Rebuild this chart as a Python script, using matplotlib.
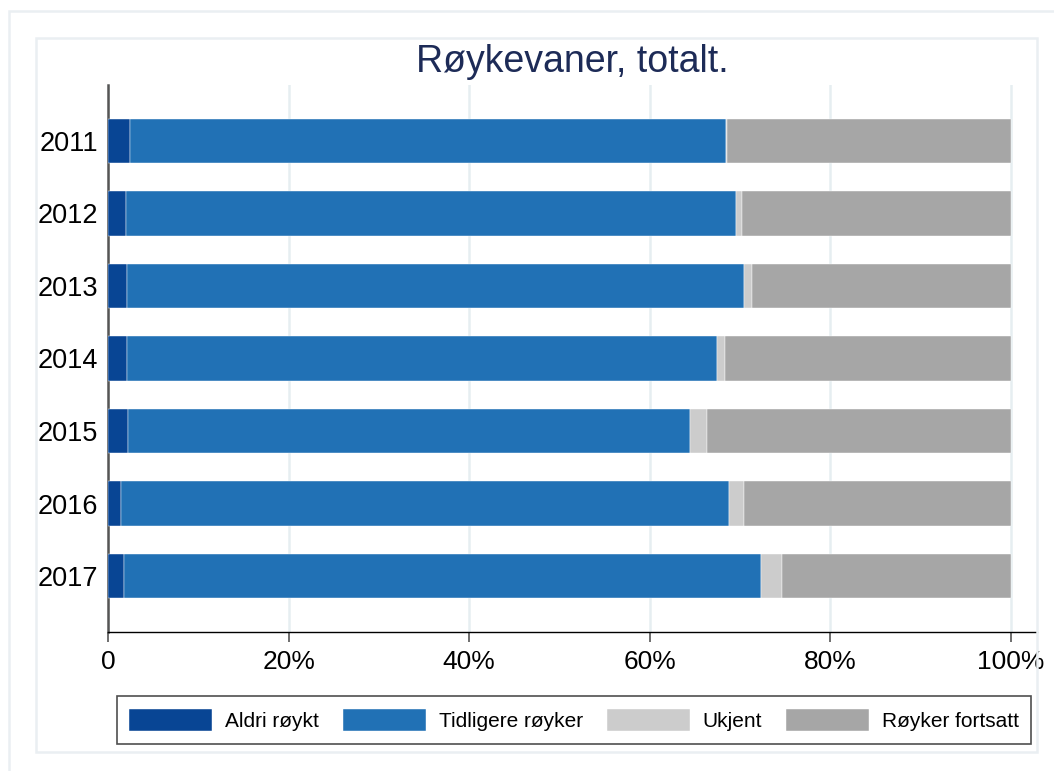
import matplotlib.pyplot as plt
import numpy as np
from matplotlib.patches import Rectangle

plt.rcParams['font.family'] = ['Liberation Sans', 'DejaVu Sans']

# Data (percent of total)
years = ['2011', '2012', '2013', '2014', '2015', '2016', '2017']
aldri = [2.4, 2.0, 2.1, 2.1, 2.2, 1.4, 1.8]
tidligere = [66.0, 67.6, 68.4, 65.4, 62.3, 67.4, 70.5]
ukjent = [0.2, 0.6, 0.8, 0.8, 1.9, 1.7, 2.3]
fortsatt = [31.4, 29.8, 28.7, 31.7, 33.6, 29.5, 25.4]

series_names = ['Aldri røykt', 'Tidligere røyker', 'Ukjent', 'Røyker fortsatt']
colours = ['#084594', '#2171b5', '#cccccc', '#a6a6a6']
xticks = [0, 20, 40, 60, 80, 100]
xticklabels = ['0', '20%', '40%', '60%', '80%', '100%']

fig = plt.figure(figsize=(10.54, 7.71), dpi=100)
ax = fig.add_axes([108/1054, 1 - 632/771, (1037 - 108)/1054, (632 - 85)/771])

# light frames around the chart
frame_col = '#eaeff2'
fig.add_artist(Rectangle((9/1054, -0.01), 1.02, 1 - 11/771 + 0.01,
                         transform=fig.transFigure, fill=False,
                         edgecolor=frame_col, lw=1.8))
fig.add_artist(Rectangle((36/1054, 1 - 752/771), (1037 - 36)/1054, (752 - 38)/771,
                         transform=fig.transFigure, fill=False,
                         edgecolor=frame_col, lw=1.8))

y = np.arange(len(years))
left = np.zeros(len(years))
for vals, name, col in zip([aldri, tidligere, ukjent, fortsatt], series_names, colours):
    ax.barh(y, vals, left=left, height=0.61, color=col, label=name,
            edgecolor='white', linewidth=0.3, zorder=3)
    left = left + np.array(vals)

ax.set_ylim(6.77, -0.77)
ax.set_xlim(0, 102.9)
ax.set_yticks(y)
ax.set_yticklabels(years, fontsize=19.5)
ax.set_xticks(xticks)
ax.set_xticklabels(xticklabels, fontsize=19)
ax.tick_params(axis='y', length=0, pad=7)
ax.tick_params(axis='x', length=7, width=1.2, color='#555555', pad=6)

ax.grid(axis='x', color='#e6eef1', linewidth=1.8, zorder=0)
ax.set_axisbelow(True)
for s in ['top', 'right']:
    ax.spines[s].set_visible(False)
ax.spines['left'].set_color('#555555')
ax.spines['left'].set_linewidth(1.8)
ax.spines['bottom'].set_color('black')
ax.spines['bottom'].set_linewidth(1.0)

ax.set_title('Røykevaner, totalt.', fontsize=27, color='#1d2b57', pad=9)

leg = fig.legend(loc='center', bbox_to_anchor=(574/1054, 1 - 720/771), ncol=4,
                 fontsize=15, frameon=True, fancybox=False, handlelength=4.0,
                 handleheight=1.3, handletextpad=0.6, columnspacing=1.15,
                 borderpad=0.6, borderaxespad=0)
leg.get_frame().set_edgecolor('#222222')
leg.get_frame().set_linewidth(1.2)

fig.savefig('out.png', dpi=100)
